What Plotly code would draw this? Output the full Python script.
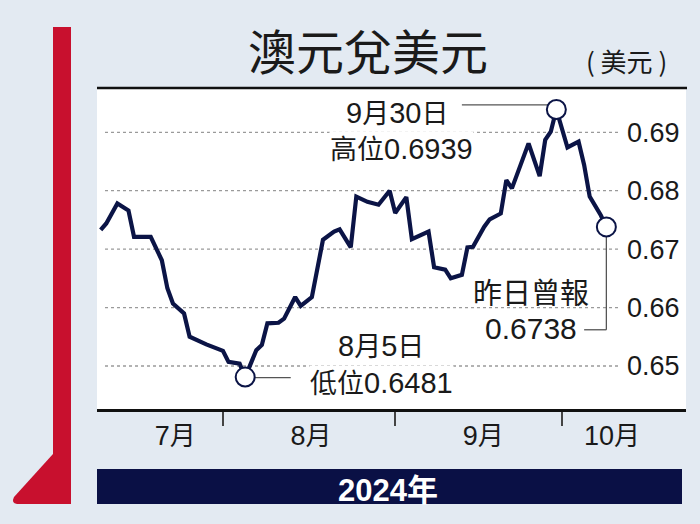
import plotly.graph_objects as go
import pandas as pd

# ---- data ----
dates = ["2024-07-10","2024-07-11","2024-07-13","2024-07-15","2024-07-16","2024-07-19","2024-07-21","2024-07-22","2024-07-23","2024-07-25",
         "2024-07-26","2024-07-29","2024-08-01","2024-08-02","2024-08-04","2024-08-05","2024-08-07","2024-08-08","2024-08-09","2024-08-11",
         "2024-08-12","2024-08-14","2024-08-15","2024-08-17","2024-08-19","2024-08-21","2024-08-22","2024-08-24","2024-08-25","2024-08-27",
         "2024-08-29","2024-08-31","2024-09-01","2024-09-03","2024-09-04","2024-09-07","2024-09-08","2024-09-10","2024-09-11","2024-09-13",
         "2024-09-14","2024-09-15","2024-09-17","2024-09-18","2024-09-20","2024-09-21","2024-09-22","2024-09-25","2024-09-27","2024-09-28",
         "2024-09-29","2024-09-30","2024-10-02","2024-10-04","2024-10-05","2024-10-06","2024-10-08","2024-10-09"]
aud_usd = [0.6733,0.6744,0.6778,0.6766,0.6721,0.6721,0.6681,0.6633,0.6607,0.6590,
           0.6550,0.6537,0.6526,0.6507,0.6504,0.6481,0.6527,0.6536,0.6573,0.6574,
           0.6581,0.6618,0.6603,0.6618,0.6716,0.6730,0.6734,0.6703,0.6790,0.6781,
           0.6776,0.6800,0.6762,0.6789,0.6717,0.6730,0.6669,0.6665,0.6650,0.6656,
           0.6703,0.6704,0.6738,0.6751,0.6761,0.6818,0.6804,0.6881,0.6825,0.6887,
           0.6901,0.6939,0.6874,0.6884,0.6844,0.6790,0.6758,0.6738]
y_ticks = [0.65, 0.66, 0.67, 0.68, 0.69]
y_tick_labels = ["0.65", "0.66", "0.67", "0.68", "0.69"]
month_label_dates = ["2024-07-23 10:00", "2024-08-16 20:00", "2024-09-16 20:00", "2024-10-10 00:00"]
month_labels = ["7", "8", "9", "10"]
month_starts = ["2024-08-01", "2024-09-01", "2024-10-01"]
title = "澳元兌美元"
unit = "( 美元 )"
year_label = ("2024", "年")
high_label = (("9", "月", "30", "日"), ("", "高位", "0.6939", ""))
low_label = (("8", "月", "5", "日"), ("", "低位", "0.6481", ""))
last_label = ("昨日曾報", "0.6738")

W, H = 700, 524
PL, PR, PT, PB = 97, 686, 88, 409
NAVY = "#0b1446"
CJK = "Noto Sans CJK TC"
LAT = "Liberation Sans"


def px(x):
    return (x - PL) / (PR - PL)


def py(y):
    return (PB - y) / (PB - PT)


def cjk(s, size):
    return f"<span style='font-family:\"{CJK}\";font-size:{size}px'>{s}</span>" if s else ""


def mixed(parts, size):
    out = ""
    for k, s in enumerate(parts):
        out += s if k % 2 == 0 else cjk(s, size)
    return out


d = pd.to_datetime(dates, format="%Y-%m-%d")
i_hi = aud_usd.index(max(aud_usd))
i_lo = aud_usd.index(min(aud_usd))
i_last = len(aud_usd) - 1

fig = go.Figure()
fig.add_trace(go.Scatter(x=d, y=aud_usd, mode="lines",
                         line=dict(color=NAVY, width=4.2), hoverinfo="skip"))
fig.add_trace(go.Scatter(x=[d[i_hi], d[i_lo], d[i_last]],
                         y=[aud_usd[i_hi], aud_usd[i_lo], aud_usd[i_last]],
                         mode="markers",
                         marker=dict(size=19, color="white", line=dict(color=NAVY, width=2)),
                         hoverinfo="skip"))

shapes = []
shapes.append(dict(type="rect", xref="paper", yref="paper", x0=px(53), x1=px(71), y0=py(504), y1=py(27),
                   fillcolor="#c8102e", line=dict(width=0), layer="above"))
shapes.append(dict(type="path", xref="paper", yref="paper",
                   path=f"M {px(53)},{py(454)} L {px(53)},{py(504)} L {px(17)},{py(504)} Q {px(11)},{py(503)} {px(14)},{py(497)} Z",
                   fillcolor="#c8102e", line=dict(width=0)))
shapes.append(dict(type="rect", xref="paper", yref="paper", x0=px(97), x1=px(682), y0=py(504), y1=py(469),
                   fillcolor="#0a1045", line=dict(width=0)))
shapes.append(dict(type="line", xref="paper", yref="paper", x0=px(97), x1=px(687), y0=py(88), y1=py(88),
                   line=dict(color="#111111", width=2.5)))
for v in y_ticks:
    shapes.append(dict(type="line", xref="paper", yref="y", x0=px(105), x1=px(618), y0=v, y1=v,
                       line=dict(color="#9a9a9a", width=1.3, dash="dot"), layer="below"))
shapes.append(dict(type="line", xref="x", yref="y", x0=d[i_hi] - pd.Timedelta(days=17), x1=d[i_hi],
                   y0=aud_usd[i_hi] + 0.0008, y1=aud_usd[i_hi] + 0.0008, line=dict(color="#555555", width=1.3), layer="below"))
shapes.append(dict(type="line", xref="x", yref="y", x0=d[i_lo], x1=d[i_lo] + pd.Timedelta(days=8.2),
                   y0=aud_usd[i_lo] - 0.0001, y1=aud_usd[i_lo] - 0.0001, line=dict(color="#555555", width=1.3), layer="below"))
shapes.append(dict(type="line", xref="x", yref="y", x0=d[i_last], x1=d[i_last],
                   y0=aud_usd[i_last], y1=0.6562, line=dict(color="#555555", width=1.3), layer="below"))
shapes.append(dict(type="line", xref="x", yref="y", x0=d[i_last] - pd.Timedelta(days=4), x1=d[i_last],
                   y0=0.6562, y1=0.6562, line=dict(color="#555555", width=1.3), layer="below"))

ann = []


def text(x, y, t, size, color="#1a1a1a", bg=None, family=CJK, weight=None, h=None):
    f = dict(family=family, size=size, color=color)
    if weight:
        f["weight"] = weight
    a = dict(x=px(x), y=py(y), xref="paper", yref="paper", text=t, showarrow=False,
             xanchor="center", yanchor="middle", font=f, borderpad=0, align="center", valign="middle")
    if bg:
        a["bgcolor"] = bg
    if h:
        a["height"] = h
    ann.append(a)


text(368, 49, title, 48)
text(626, 60, unit, 26)
text(397, 111, mixed(high_label[0], 27), 29, family=LAT, h=30)
text(401, 147, mixed(high_label[1], 27), 29, bg="white", family=LAT, h=30)
text(381, 344, mixed(low_label[0], 27), 29, family=LAT, h=30)
text(381, 381, mixed(low_label[1], 27), 29, bg="white", family=LAT, h=30)
text(531, 291, cjk(last_label[0], 29), 29, bg="white", family=LAT, h=30)
text(531, 328, last_label[1], 30, family=LAT, h=30)
text(388, 487, year_label[0] + f"<span style='font-family:\"{CJK}\"'>{year_label[1]}</span>", 31,
     color="white", family=LAT, weight="bold")

month_text = [m + cjk("月", 26) for m in month_labels]

fig.update_layout(
    width=W, height=H,
    margin=dict(l=PL, r=W - PR, t=PT, b=H - PB, pad=0),
    paper_bgcolor="#e3eaf2", plot_bgcolor="white",
    showlegend=False,
    shapes=shapes, annotations=ann,
    xaxis=dict(range=["2024-07-09 08:00", "2024-10-23 08:00"], tickmode="array",
               tickvals=pd.to_datetime(month_label_dates, format="%Y-%m-%d %H:%M"), ticktext=month_text,
               ticks="", showgrid=False, zeroline=False,
               showline=True, linecolor="#111111", linewidth=2.5,
               tickfont=dict(family=LAT, size=27, color="#1a1a1a"),
               ticklabelstandoff=1,
               minor=dict(tickmode="array", tickvals=pd.to_datetime(month_starts, format="%Y-%m-%d"), ticks="outside",
                          ticklen=14, tickwidth=1.5, tickcolor="#444444", showgrid=False)),
    yaxis=dict(range=[0.64264, 0.69758], side="right", anchor="free", position=px(622),
               tickmode="array", tickvals=y_ticks,
               ticktext=y_tick_labels, ticks="", showgrid=False, zeroline=False, showline=False,
               ticklabelposition="outside", ticklabelstandoff=4,
               tickfont=dict(family=LAT, size=27, color="#1a1a1a")),
)

fig.write_html("out.html", config={"displayModeBar": False},
               post_script="document.body.style.margin='0';document.body.style.padding='0';")
